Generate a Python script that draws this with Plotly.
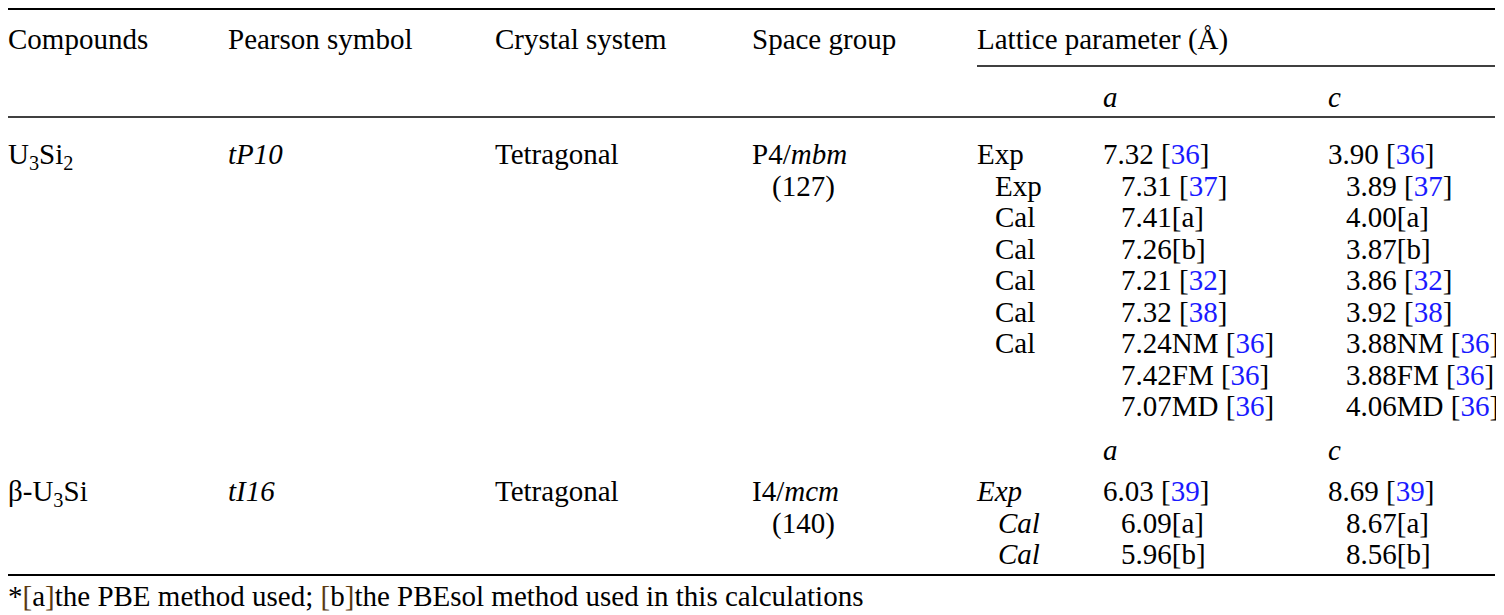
import plotly.graph_objects as go

# table content
headers = ["Compounds", "Pearson symbol", "Crystal system", "Space group", "Lattice parameter (Å)"]
compounds = ["U<sub>3</sub>Si<sub>2</sub>", "β-U<sub>3</sub>Si"]
pearson = ["<i>tP10</i>", "<i>tI16</i>"]
crystal = ["Tetragonal", "Tetragonal"]
space_group = ["P4/<i>mbm</i>", "I4/<i>mcm</i>"]
space_number = ["(127)", "(140)"]

u3si2_method = ["Exp", "Exp", "Cal", "Cal", "Cal", "Cal", "Cal", "", ""]
u3si2_a = ["7.32", "7.31", "7.41", "7.26", "7.21", "7.32", "7.24NM", "7.42FM", "7.07MD"]
u3si2_c = ["3.90", "3.89", "4.00", "3.87", "3.86", "3.92", "3.88NM", "3.88FM", "4.06MD"]
u3si2_ref = ["36", "37", "a", "b", "32", "38", "36", "36", "36"]

u3si_method = ["<i>Exp</i>", "<i>Cal</i>", "<i>Cal</i>"]
u3si_a = ["6.03", "6.09", "5.96"]
u3si_c = ["8.69", "8.67", "8.56"]
u3si_ref = ["39", "a", "b"]

footnote = ("*<span style='color:#5a3a12'>[</span>a<span style='color:#5a3a12'>]</span>"
            "the PBE method used; <span style='color:#5a3a12'>[</span>b<span style='color:#5a3a12'>]</span>"
            "the PBEsol method used in this calculations")

# layout (pixels); the page body has an 8px margin, so the axes are offset by it
W, H = 1504, 615
PAD = 8
FONT = "Liberation Serif, Times New Roman, serif"
FS = 29
col_x = [8, 228, 495, 752, 977]
a_x, c_x = 1103, 1328
indent = 18
row_h = 31.5
dy = 2  # text baseline nudge
y_head, y_sub1, y_block1 = 40, 98, 155
y_sub2, y_block2 = 451, 492
y_top, y_cmid, y_mid, y_bot, y_foot = 9, 66, 117, 575, 597
table_right = 1495


def with_ref(val, ref):
    if ref.isdigit():
        return f"{val} [<span style='color:#1a1aff'>{ref}</span>]"
    return f"{val}[{ref}]"


fig = go.Figure()


def add_text(xs, ys, texts):
    keep = [(x, y, t) for x, y, t in zip(xs, ys, texts) if t]
    fig.add_trace(go.Scatter(
        x=[k[0] for k in keep], y=[k[1] + dy for k in keep], text=[k[2] for k in keep],
        mode="text", textposition="middle right",
        textfont=dict(family=FONT, size=FS, color="black"),
        hoverinfo="skip", showlegend=False,
    ))


# header
add_text(col_x, [y_head] * len(headers), headers)
add_text([a_x, c_x, a_x, c_x], [y_sub1, y_sub1, y_sub2, y_sub2],
         ["<i>a</i>", "<i>c</i>", "<i>a</i>", "<i>c</i>"])

# left columns
block_y = [y_block1, y_block2]
add_text([col_x[0]] * 2, block_y, compounds)
add_text([col_x[1]] * 2, block_y, pearson)
add_text([col_x[2]] * 2, block_y, crystal)
add_text([col_x[3]] * 2, block_y, space_group)
add_text([col_x[3] + 20] * 2, [y + row_h for y in block_y], space_number)

# lattice parameters, block 1
ys1 = [y_block1 + i * row_h for i in range(len(u3si2_a))]
mx1 = [col_x[4]] + [col_x[4] + indent] * (len(u3si2_method) - 1)
ax1 = [a_x] + [a_x + indent] * (len(u3si2_a) - 1)
cx1 = [c_x] + [c_x + indent] * (len(u3si2_c) - 1)
add_text(mx1, ys1, u3si2_method)
add_text(ax1, ys1, [with_ref(v, r) for v, r in zip(u3si2_a, u3si2_ref)])
add_text(cx1, ys1, [with_ref(v, r) for v, r in zip(u3si2_c, u3si2_ref)])

# lattice parameters, block 2
ys2 = [y_block2 + i * row_h for i in range(len(u3si_a))]
add_text([col_x[4]] + [col_x[4] + 21] * 2, ys2, u3si_method)
add_text([a_x] + [a_x + indent] * 2, ys2, [with_ref(v, r) for v, r in zip(u3si_a, u3si_ref)])
add_text([c_x] + [c_x + indent] * 2, ys2, [with_ref(v, r) for v, r in zip(u3si_c, u3si_ref)])

# footnote
add_text([col_x[0]], [y_foot], [footnote])

# rules
rules = [(0, table_right, y_top, 2), (col_x[4], table_right, y_cmid, 1.3),
         (0, table_right, y_mid, 1.3), (0, table_right, y_bot, 2)]
for x0, x1, y, w in rules:
    fig.add_shape(type="line", x0=x0, x1=x1, y0=y, y1=y, xref="x", yref="y",
                  line=dict(color="black", width=w))

fig.update_xaxes(range=[PAD, W + PAD], visible=False, fixedrange=True)
fig.update_yaxes(range=[H + PAD, PAD], visible=False, fixedrange=True)
fig.update_layout(width=W, height=H, margin=dict(l=0, r=0, t=0, b=0),
                  plot_bgcolor="white", paper_bgcolor="white")

fig.write_html("out.html")
